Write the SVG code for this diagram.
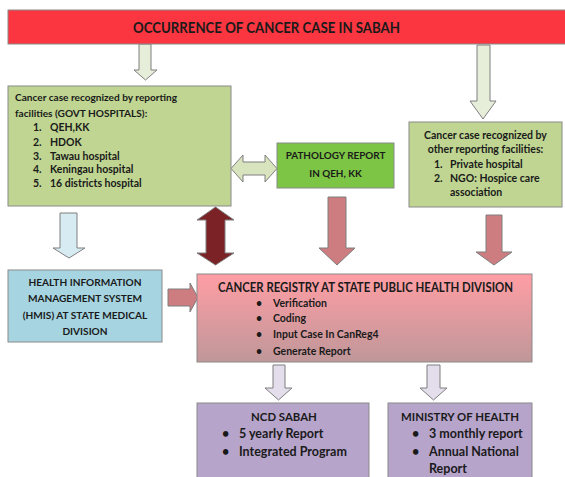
<svg xmlns="http://www.w3.org/2000/svg" width="565" height="477" viewBox="0 0 565 477">
<defs>
<linearGradient id="regGrad" x1="0" y1="0" x2="0" y2="1">
<stop offset="0" stop-color="#FF9EA4"/>
<stop offset="1" stop-color="#BF9799"/>
</linearGradient>
</defs>
<style>
text{font-family:Lato,"Liberation Sans",sans-serif;font-weight:bold;fill:#1a1a1a;font-size:10.5px}
.box{stroke:#8a8a8a;stroke-width:1}
.arr{stroke:#7f7f7f;stroke-width:1;stroke-linejoin:miter}
.c{text-anchor:middle}
.t{font-size:15px}
.h{font-size:12.5px}
.s{font-size:10.1px}
.p{font-size:9.9px}
.b{font-size:12.5px}
.m{font-size:11.4px}
</style>
<rect width="565" height="477" fill="#ffffff"/>
<g id="connectors">
<path class="arr" fill="#E6EDD8" d="M139,44 H151 V70 H157 L145.5,80 L134,70 H139 Z"/>
<path class="arr" fill="#E6EDD8" d="M477,45 H490 V101 H496 L483,119 L470,101 H477 Z"/>
<path class="arr" fill="#D6ECF2" d="M60,213 H77 V248 H85 L69,258 L53,248 H60 Z"/>
<path class="arr" fill="#7B2226" d="M215.5,207 L234,220 H225 V253 H234 L215.5,265 L197,253 H206 V220 H197 Z"/>
<path class="arr" fill="#D7E4BD" d="M231,168.5 L243,155 V162 H265 V155 L277,168.5 L265,182 V175 H243 V182 Z"/>
<path class="arr" fill="#CD7C80" d="M328,197 H346 V248 H355 L337,265 L319,248 H328 Z"/>
<path class="arr" fill="#CD7C80" d="M486,215 H502 V252 H512 L494,265 L476,252 H486 Z"/>
<path class="arr" fill="#CD7C80" d="M168,289 H190 V283 L198,297.5 L190,312 V306 H168 Z"/>
<path class="arr" fill="#E4DDEC" d="M273,365 H285 V388 H292 L278.5,400 L265,388 H273 Z"/>
<path class="arr" fill="#E4DDEC" d="M427,365 H440 V388 H447 L433.5,400 L420,388 H427 Z"/>
</g>
<g id="title">
<rect class="box" x="8" y="10" width="570" height="34" fill="#FB3640"/>
<text class="c t" x="266.5" y="32.5" textLength="267" lengthAdjust="spacingAndGlyphs">OCCURRENCE OF CANCER CASE IN SABAH</text>
</g>
<g id="govt">
<rect class="box" x="8" y="86" width="223" height="120" fill="#BFD591"/>
<text class="s" x="15" y="101">Cancer case recognized by reporting</text>
<text class="s" x="15" y="117">facilities (GOVT HOSPITALS):</text>
<text x="33" y="131">1.</text><text x="50" y="131">QEH,KK</text>
<text x="33" y="145.5">2.</text><text x="50" y="145.5">HDOK</text>
<text x="33" y="159.5">3.</text><text x="50" y="159.5">Tawau hospital</text>
<text x="33" y="173">4.</text><text x="50" y="173">Keningau hospital</text>
<text x="33" y="187">5.</text><text x="50" y="187">16 districts hospital</text>
</g>
<g id="pathology">
<rect class="box" x="277" y="143" width="117" height="45" fill="#7DC545"/>
<text class="c p" x="335.5" y="159">PATHOLOGY REPORT</text>
<text class="c p" x="335.5" y="176.5">IN QEH, KK</text>
</g>
<g id="other">
<rect class="box" x="409" y="122" width="153" height="85" fill="#BFD591"/>
<text class="c" x="485.5" y="138.5">Cancer case recognized by</text>
<text class="c" x="485.5" y="152.5">other reporting facilities:</text>
<text x="434" y="167.5">1.</text><text x="450" y="167.5">Private hospital</text>
<text x="434" y="181.5">2.</text><text x="450" y="181.5">NGO: Hospice care</text>
<text x="450" y="195.5">association</text>
</g>
<g id="hmis">
<rect class="box" x="8" y="270" width="154" height="72" fill="#A6D4E1"/>
<text class="c s" x="85" y="285.5">HEALTH INFORMATION</text>
<text class="c s" x="85" y="301.5">MANAGEMENT SYSTEM</text>
<text class="c s" x="85" y="318.5">(HMIS) AT STATE MEDICAL</text>
<text class="c s" x="85" y="334.5">DIVISION</text>
</g>
<g id="registry">
<rect class="box" x="197" y="274" width="335" height="88" fill="url(#regGrad)"/>
<text class="c h" x="365.5" y="291.5" textLength="295" lengthAdjust="spacingAndGlyphs">CANCER REGISTRY AT STATE PUBLIC HEALTH DIVISION</text>
<text x="256" y="306.5">•</text><text x="273" y="306.5">Verification</text>
<text x="256" y="321.5">•</text><text x="273" y="321.5">Coding</text>
<text x="256" y="337.5">•</text><text x="273" y="337.5">Input Case In CanReg4</text>
<text x="256" y="354.5">•</text><text x="273" y="354.5">Generate Report</text>
</g>
<g id="ncd">
<rect class="box" x="197" y="403" width="172" height="80" fill="#B6A4CB"/>
<text class="c m" x="284" y="421">NCD SABAH</text>
<text class="b" x="222" y="437.5">•</text><text class="b" x="239" y="437.5">5 yearly Report</text>
<text class="b" x="222" y="455.5">•</text><text class="b" x="239" y="455.5">Integrated Program</text>
</g>
<g id="moh">
<rect class="box" x="388" y="403" width="144" height="80" fill="#B6A4CB"/>
<text class="c m" x="460" y="421">MINISTRY OF HEALTH</text>
<text class="b" x="412" y="437.5">•</text><text class="b" x="429" y="437.5">3 monthly report</text>
<text class="b" x="412" y="455.5">•</text><text class="b" x="429" y="455.5">Annual National</text>
<text class="b" x="429" y="472.5">Report</text>
</g>
</svg>
